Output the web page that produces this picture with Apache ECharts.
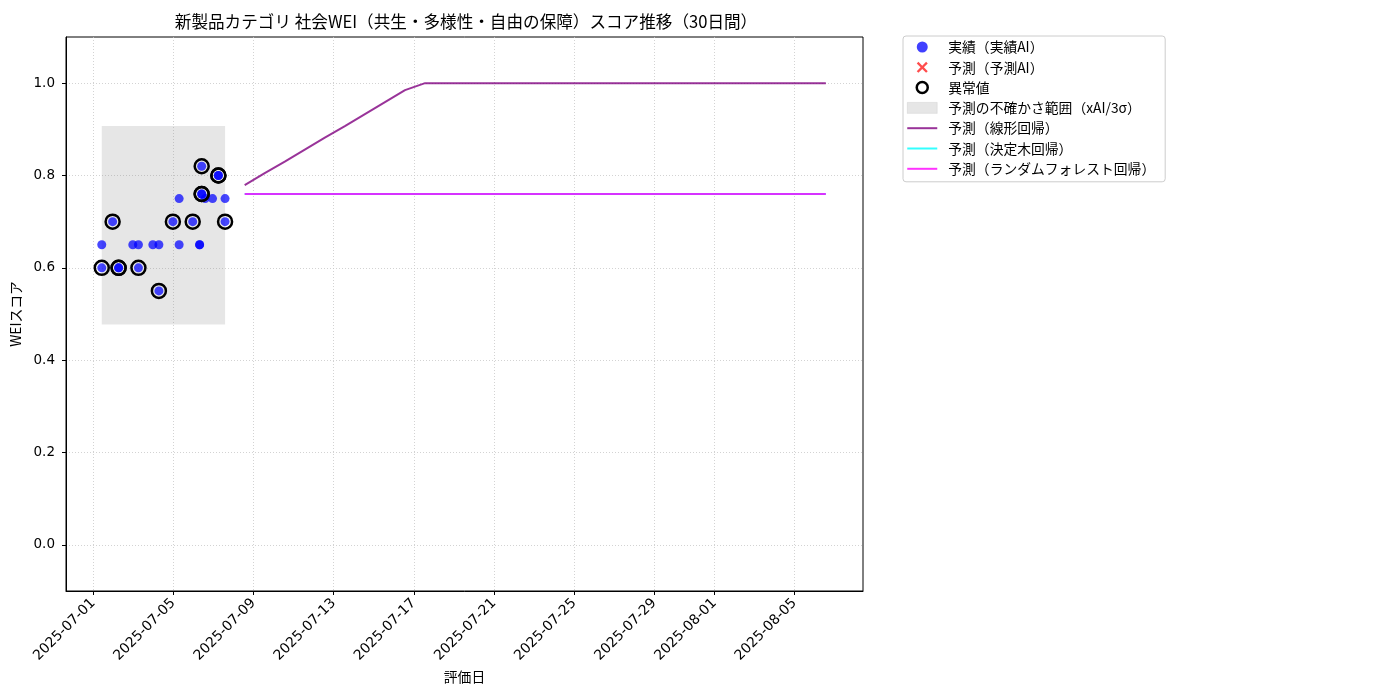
<!DOCTYPE html>
<html>
<head>
<meta charset="utf-8">
<script src="https://cdn.jsdelivr.net/npm/echarts@6/dist/echarts.min.js"></script>
<style>
  html, body { margin: 0; padding: 0; background: #fff; }
  #main { width: 1400px; height: 700px; }
</style>
</head>
<body>
<div id="main"></div>
<script type="text/javascript">
    // 実績（日時, スコア）
    var actualTimes = [
        '2025-07-01 10:20', '2025-07-01 10:20', '2025-07-01 23:20', '2025-07-02 06:30', '2025-07-02 06:30',
        '2025-07-02 23:30', '2025-07-03 06:15', '2025-07-03 06:15', '2025-07-03 23:30', '2025-07-04 06:45',
        '2025-07-04 06:45', '2025-07-04 23:30', '2025-07-05 07:00', '2025-07-05 07:00', '2025-07-05 23:15',
        '2025-07-06 07:30', '2025-07-06 07:30', '2025-07-06 10:00', '2025-07-06 10:00', '2025-07-06 10:00',
        '2025-07-06 14:10', '2025-07-06 23:00', '2025-07-07 06:00', '2025-07-07 06:00', '2025-07-07 14:00',
        '2025-07-07 14:00'
    ];
    var actualScores = [
        0.65, 0.60, 0.70, 0.60, 0.60,
        0.65, 0.65, 0.60, 0.65, 0.65,
        0.55, 0.70, 0.75, 0.65, 0.70,
        0.65, 0.65, 0.82, 0.76, 0.76,
        0.75, 0.75, 0.80, 0.80, 0.75,
        0.70
    ];
    var anomalyFlags = [
        0, 1, 1, 1, 1,
        0, 0, 1, 0, 0,
        1, 1, 0, 0, 1,
        0, 0, 1, 1, 1,
        0, 0, 1, 1, 0,
        1
    ];

    // 予測（30日間）
    var predStart = '2025-07-08 13:30';
    var predLinear = [
        0.779, 0.805, 0.830, 0.856, 0.882, 0.907, 0.933, 0.959, 0.985, 1.0,
        1.0, 1.0, 1.0, 1.0, 1.0, 1.0, 1.0, 1.0, 1.0, 1.0,
        1.0, 1.0, 1.0, 1.0, 1.0, 1.0, 1.0, 1.0, 1.0, 1.0
    ];
    var predTree = [
        0.76, 0.76, 0.76, 0.76, 0.76, 0.76, 0.76, 0.76, 0.76, 0.76,
        0.76, 0.76, 0.76, 0.76, 0.76, 0.76, 0.76, 0.76, 0.76, 0.76,
        0.76, 0.76, 0.76, 0.76, 0.76, 0.76, 0.76, 0.76, 0.76, 0.76
    ];
    var predForest = [
        0.76, 0.76, 0.76, 0.76, 0.76, 0.76, 0.76, 0.76, 0.76, 0.76,
        0.76, 0.76, 0.76, 0.76, 0.76, 0.76, 0.76, 0.76, 0.76, 0.76,
        0.76, 0.76, 0.76, 0.76, 0.76, 0.76, 0.76, 0.76, 0.76, 0.76
    ];

    // 不確かさ範囲（xAI/3σ）
    var bandTimes = ['2025-07-01 10:20', '2025-07-07 14:00'];
    var bandScores = [0.477, 0.907];

    // 目盛り
    var xTickLabels = ['2025-07-01', '2025-07-05', '2025-07-09', '2025-07-13', '2025-07-17',
        '2025-07-21', '2025-07-25', '2025-07-29', '2025-08-01', '2025-08-05'];
    var yTickValues = [0.0, 0.2, 0.4, 0.6, 0.8, 1.0];
    var xRange = ['2025-06-29 15:30', '2025-08-08 10:00'];
    var yRange = [-0.1, 1.1];

    var FONT = '"Noto Sans CJK JP", "Noto Sans", sans-serif';
    var NUM_FONT = '"DejaVu Sans", sans-serif';
    var DAY = 24 * 3600 * 1000;
    var LINE_ICON = 'path://M0,0L30,0L30,2L0,2Z';

    function ts(s) {
        // ローカル時刻として解釈
        return new Date(s.length === 10 ? s + 'T00:00:00' : s.replace(' ', 'T') + ':00').getTime();
    }
    function fmtDate(v) {
        var d = new Date(v);
        var m = d.getMonth() + 1, day = d.getDate();
        return d.getFullYear() + '-' + (m < 10 ? '0' + m : m) + '-' + (day < 10 ? '0' + day : day);
    }

    var actualData = [], anomalyData = [];
    for (var i = 0; i < actualTimes.length; i++) {
        actualData.push([ts(actualTimes[i]), actualScores[i]]);
        if (anomalyFlags[i]) anomalyData.push([ts(actualTimes[i]), actualScores[i]]);
    }
    var t0 = ts(predStart);
    var linData = [], treeData = [], forestData = [];
    for (var j = 0; j < predLinear.length; j++) {
        linData.push([t0 + j * DAY, predLinear[j]]);
        treeData.push([t0 + j * DAY, predTree[j]]);
        forestData.push([t0 + j * DAY, predForest[j]]);
    }
    var xTicks = xTickLabels.map(ts);

    var chart = echarts.init(document.getElementById('main'));
    var option = {
        animation: false,
        textStyle: { fontFamily: FONT },
        title: {
            text: '新製品カテゴリ 社会WEI（共生・多様性・自由の保障）スコア推移（30日間）',
            left: 461, top: 8, textAlign: 'center',
            textStyle: { fontFamily: FONT, fontSize: 16.6, fontWeight: 'normal', color: '#000' }
        },
        grid: {
            left: 66, right: 537, top: 37, bottom: 109,
            show: true, borderColor: '#000', borderWidth: 1, containLabel: false
        },
        legend: {
            orient: 'vertical', left: 903, top: 36,
            padding: [4, 10, 6, 4],
            backgroundColor: '#fff', borderColor: '#ccc', borderWidth: 1, borderRadius: 3,
            itemWidth: 30, itemHeight: 11, itemGap: 6.3,
            textStyle: { fontFamily: FONT, fontSize: 13.8, color: '#000', padding: [0, 0, 0, 6], lineHeight: 14 },
            data: [
                { name: '実績（実績AI）', icon: 'circle', itemStyle: { color: 'rgba(0,0,255,0.75)' } },
                { name: '予測（予測AI）', icon: 'path://M1.5,0L5,3.5L8.5,0L10,1.5L6.5,5L10,8.5L8.5,10L5,6.5L1.5,10L0,8.5L3.5,5L0,1.5Z',
                  itemStyle: { color: 'rgba(255,0,0,0.7)' } },
                { name: '異常値', icon: 'circle', itemStyle: { color: 'rgba(0,0,0,0)', borderColor: '#000', borderWidth: 2.5 } },
                { name: '予測の不確かさ範囲（xAI/3σ）', icon: 'rect', itemStyle: { color: 'rgba(128,128,128,0.2)', borderColor: 'rgba(128,128,128,0.25)', borderWidth: 0.5 } },
                { name: '予測（線形回帰）', icon: LINE_ICON, itemStyle: { color: 'rgba(128,0,128,0.8)' } },
                { name: '予測（決定木回帰）', icon: LINE_ICON, itemStyle: { color: 'rgba(0,255,255,0.8)' } },
                { name: '予測（ランダムフォレスト回帰）', icon: LINE_ICON, itemStyle: { color: 'rgba(255,0,255,0.8)' } }
            ]
        },
        xAxis: {
            type: 'value',
            min: ts(xRange[0]), max: ts(xRange[1]),
            name: '評価日', nameLocation: 'middle', nameGap: 78,
            nameTextStyle: { fontFamily: FONT, fontSize: 13.8, color: '#000' },
            axisLine: { show: true, onZero: false, lineStyle: { color: '#000', width: 1 } },
            axisTick: { show: true, length: 4, customValues: xTicks, lineStyle: { color: '#000' } },
            axisLabel: {
                customValues: xTicks, rotate: 45, margin: 10,
                fontFamily: NUM_FONT, fontSize: 13.9, color: '#000',
                formatter: function (v) { return fmtDate(v); }
            },
            splitLine: { show: true, lineStyle: { type: [1, 2], color: '#c8c8c8', width: 0.8 } }
        },
        yAxis: {
            type: 'value',
            min: yRange[0], max: yRange[1],
            name: 'WEIスコア', nameLocation: 'middle', nameGap: 39,
            nameTextStyle: { fontFamily: FONT, fontSize: 13.8, color: '#000' },
            axisLine: { show: true, onZero: false, lineStyle: { color: '#000', width: 1 } },
            axisTick: { show: true, length: 4, customValues: yTickValues, lineStyle: { color: '#000' } },
            axisLabel: {
                customValues: yTickValues, margin: 11,
                fontFamily: NUM_FONT, fontSize: 13.5, color: '#000',
                formatter: function (v) { return v.toFixed(1); }
            },
            splitLine: { show: true, lineStyle: { type: [1, 2], color: '#c8c8c8', width: 0.8 } }
        },
        series: [
            {
                name: '予測の不確かさ範囲（xAI/3σ）',
                type: 'line', data: [], symbol: 'none',
                itemStyle: { color: 'rgba(128,128,128,0.2)' },
                markArea: {
                    silent: true,
                    itemStyle: { color: 'rgba(128,128,128,0.2)' },
                    data: [[
                        { coord: [ts(bandTimes[0]), bandScores[0]] },
                        { coord: [ts(bandTimes[1]), bandScores[1]] }
                    ]]
                },
                z: 1
            },
            {
                name: '予測（線形回帰）', type: 'line', data: linData, symbol: 'none',
                lineStyle: { color: 'rgba(128,0,128,0.8)', width: 2 },
                itemStyle: { color: 'rgba(128,0,128,0.8)' }, z: 3
            },
            {
                name: '予測（決定木回帰）', type: 'line', data: treeData, symbol: 'none',
                lineStyle: { color: 'rgba(0,255,255,0.8)', width: 2 },
                itemStyle: { color: 'rgba(0,255,255,0.8)' }, z: 3
            },
            {
                name: '予測（ランダムフォレスト回帰）', type: 'line', data: forestData, symbol: 'none',
                lineStyle: { color: 'rgba(255,0,255,0.8)', width: 2 },
                itemStyle: { color: 'rgba(255,0,255,0.8)' }, z: 3
            },
            {
                name: '実績（実績AI）', type: 'scatter', data: actualData,
                symbol: 'circle', symbolSize: 9,
                itemStyle: { color: 'rgba(0,0,255,0.72)', opacity: 1 }, z: 4
            },
            {
                name: '予測（予測AI）', type: 'scatter', data: [],
                itemStyle: { color: 'rgba(255,0,0,0.7)', opacity: 1 }, z: 4
            },
            {
                name: '異常値', type: 'scatter', data: anomalyData,
                symbol: 'circle', symbolSize: 14,
                itemStyle: { color: 'rgba(0,0,0,0)', borderColor: '#000', borderWidth: 2.5, opacity: 1 }, z: 5
            }
        ]
    };
    chart.setOption(option);
</script>
</body>
</html>
